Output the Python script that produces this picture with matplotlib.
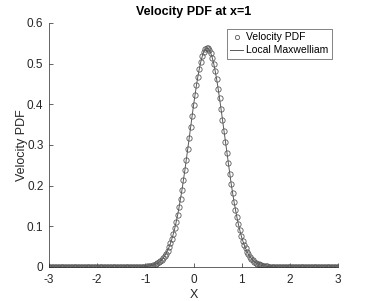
import numpy as np
import matplotlib
matplotlib.use("Agg")
import matplotlib.pyplot as plt

# velocity grid (201 nodes, dv = 0.03)
v = np.linspace(-3, 3, 201)

# PDF values, v = -3.00 ... 3.00
pdf = [0.0] * 64 + [
    0.00043, 0.00059, 0.00079, 0.00107, 0.00143, 0.00189, 0.00250, 0.00327, 0.00426, 0.00550,
    0.00705, 0.00898, 0.01136, 0.01427, 0.01780, 0.02204, 0.02711, 0.03314, 0.04019, 0.04842,
    0.05796, 0.06886, 0.08126, 0.09518, 0.1108, 0.1280, 0.1469, 0.1675, 0.1896, 0.2130,
    0.2378, 0.2636, 0.2902, 0.3173, 0.3444, 0.3713, 0.3976, 0.4228, 0.4464, 0.4681,
    0.4874, 0.5041, 0.5176, 0.5279, 0.5347, 0.5378, 0.5372, 0.5328, 0.5249, 0.5135,
    0.4988, 0.4812, 0.4611, 0.4387, 0.4145, 0.3889, 0.3624, 0.3354, 0.3082, 0.2813,
    0.2549, 0.2295, 0.2051, 0.1821, 0.1604, 0.1405, 0.1221, 0.1054, 0.0904, 0.0769,
    0.0650, 0.0546, 0.04554, 0.03771, 0.03101, 0.02532, 0.02054, 0.01654, 0.01323, 0.01051,
    0.00829, 0.00649, 0.00505, 0.00390, 0.00299, 0.00228, 0.00173, 0.00130, 0.00097, 0.00072,
    0.00053, 0.00039,
] + [0.0] * 45
maxwellian = list(pdf)

plt.rcParams['font.family'] = ['Liberation Sans', 'DejaVu Sans']
plt.rcParams['axes.unicode_minus'] = False
fig = plt.figure(figsize=(3.74, 3.01), dpi=100)
ax = fig.add_axes([0.131, 0.113, 0.773, 0.811])

gray = '0.15'
ax.plot(v, pdf, 'o', mfc='none', mec='0.35', ms=3.8, mew=0.6, label='Velocity PDF')
ax.plot(v, maxwellian, '-', color='0.35', lw=0.7, label='Local Maxwelliam')

ax.set_xlim(-3, 3)
ax.set_ylim(0, 0.6)
ax.set_xticks([-3, -2, -1, 0, 1, 2, 3])
ax.set_yticks([0, 0.1, 0.2, 0.3, 0.4, 0.5, 0.6])
ax.set_yticklabels(['0', '0.1', '0.2', '0.3', '0.4', '0.5', '0.6'])
for s in ['top', 'right']:
    ax.spines[s].set_visible(False)
for s in ['left', 'bottom']:
    ax.spines[s].set_color(gray)
    ax.spines[s].set_linewidth(0.5)
ax.tick_params(direction='in', length=3, width=0.5, colors=gray, labelsize=8.5)
ax.tick_params(axis='x', pad=5)
ax.tick_params(axis='y', pad=4)

ax.set_title('Velocity PDF at x=1', fontsize=9, fontweight='bold', color='black', pad=6)
ax.set_xlabel('X', fontsize=9, color=gray, labelpad=2)
ax.set_ylabel('Velocity PDF', fontsize=9, color=gray, labelpad=-1)

leg = ax.legend(loc='upper right', fontsize=7.5, frameon=True, fancybox=False,
                handlelength=1.3, handletextpad=0.3, borderpad=0.3, labelspacing=0.3,
                borderaxespad=0.6, markerscale=0.8)
leg.get_frame().set_edgecolor(gray)
leg.get_frame().set_linewidth(0.5)

fig.savefig('out.png', dpi=100)
